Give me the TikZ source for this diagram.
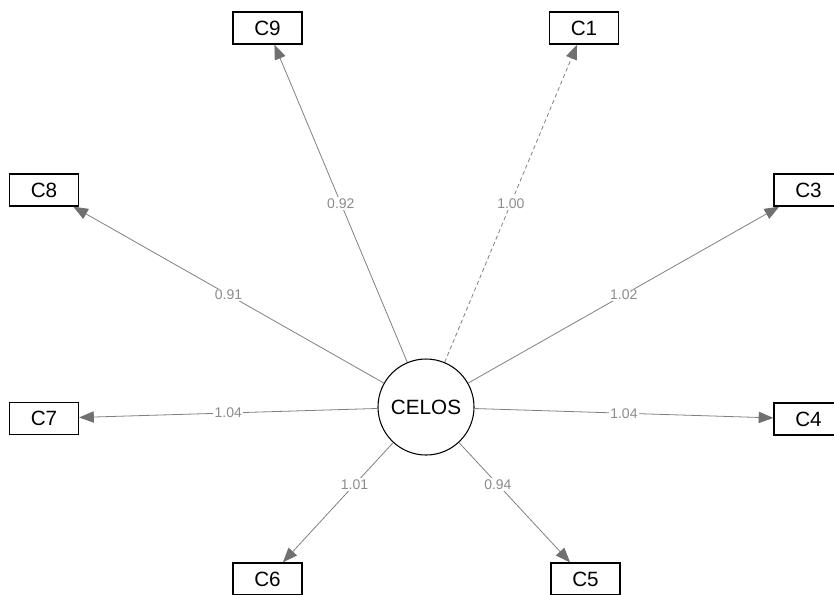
\documentclass[tikz,border=0pt]{standalone}
\usepackage{fontspec}
\setmainfont{Liberation Sans}
\usepackage{tikz}
\usetikzlibrary{arrows.meta}
\definecolor{edgegray}{RGB}{128,128,128}
\definecolor{tipgray}{RGB}{112,112,112}
\definecolor{labelgray}{RGB}{140,140,140}

\begin{document}
\begin{tikzpicture}[x=0.75pt, y=-0.75pt,
    manifest/.style={draw, line width=1pt, minimum width=51.75pt, minimum height=24pt, inner sep=0pt, font=\fontsize{15.5}{18}\selectfont},
    latent/.style={draw, circle, line width=0.8pt, minimum size=72pt, inner sep=0pt, font=\fontsize{15.5}{18}\selectfont},
    loading/.style={draw=edgegray, line width=0.6pt, -{Triangle[length=11pt, width=8.5pt, color=tipgray]}},
    est/.style={fill=white, inner sep=1pt, text=labelgray, font=\fontsize{10.5}{12}\selectfont}]
      % frame of the plot
      \useasboundingbox (0,0) rectangle (834,594);
      \clip (0,0) rectangle (834,594);

      % latent factor
      \node[latent] (celos) at (426,407) {CELOS};

      % indicators
      \node[manifest] (c9) at (267.5,28) {C9};
      \node[manifest] (c1) at (584,28) {C1};
      \node[manifest] (c8) at (44,190) {C8};
      \node[manifest] (c3) at (808.5,190) {C3};
      \node[manifest] (c7) at (44,418.5) {C7};
      \node[manifest] (c4) at (808.5,419) {C4};
      \node[manifest] (c6) at (267.5,579) {C6};
      \node[manifest] (c5) at (585.5,579) {C5};

      % loadings
      \draw[loading] (celos) -- (c9) node[est, pos=0.5] {0.92};
      \draw[loading, dash pattern=on 3pt off 2.25pt] (celos) -- (c1) node[est, pos=0.5] {1.00};
      \draw[loading] (celos) -- (c8) node[est, pos=0.5] {0.91};
      \draw[loading] (celos) -- (c3) node[est, pos=0.5] {1.02};
      \draw[loading] (celos) -- (c7) node[est, pos=0.5] {1.04};
      \draw[loading] (celos) -- (c4) node[est, pos=0.5] {1.04};
      \draw[loading] (celos) -- (c6) node[est, pos=0.35] {1.01};
      \draw[loading] (celos) -- (c5) node[est, pos=0.35] {0.94};
    \end{tikzpicture}
\end{document}
